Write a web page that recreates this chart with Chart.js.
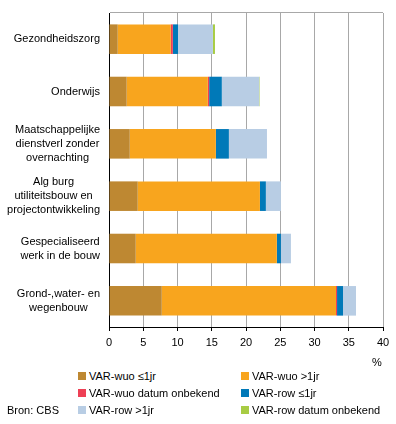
<!DOCTYPE html>
<html>
<head>
<meta charset="utf-8">
<script src="https://cdn.jsdelivr.net/npm/chart.js@4.4.1/dist/chart.umd.min.js"></script>
<style>
  html, body { margin: 0; padding: 0; background: #fff; }
  #wrap { position: relative; width: 396px; height: 424px; font-family: "Liberation Sans", Arial, sans-serif; font-size: 11px; color: #000; }
  #c { position: absolute; left: 0; top: 0; }
  .lg { position: absolute; white-space: nowrap; line-height: 14px; }
  .lg i { display: inline-block; width: 8px; height: 8px; margin-right: 3px; vertical-align: -0px; }
  .txt { position: absolute; white-space: nowrap; line-height: 14px; }
</style>
</head>
<body>
<div id="wrap">
  <canvas id="c" width="396" height="357"></canvas>
  <div id="legend"></div>
  <div class="txt" style="left:372px; top:355px;">%</div>
  <div class="txt" style="left:7px; top:403px;">Bron: CBS</div>
</div>
<script>
// Categories (top to bottom)
const categories = [
  ["Gezondheidszorg"],
  ["Onderwijs"],
  ["Maatschappelijke", "dienstverl zonder", "overnachting"],
  ["Alg burg", "utiliteitsbouw en", "projectontwikkeling"],
  ["Gespecialiseerd", "werk in de bouw"],
  ["Grond-,water- en", "wegenbouw"]
];

// Series values (%)
const wuoShort   = [1.27, 2.58, 3.03, 4.19, 3.90, 7.70];
const wuoLong    = [7.75, 11.85, 12.57, 17.84, 20.60, 25.44];
const wuoUnknown = [0.30, 0.19, 0.00, 0.00, 0.00, 0.15];
const rowShort   = [0.75, 1.85, 1.90, 0.87, 0.60, 0.87];
const rowLong    = [5.10, 5.46, 5.56, 2.20, 1.46, 1.90];
const rowUnknown = [0.30, 0.07, 0.00, 0.00, 0.00, 0.00];

const seriesNames = [
  "VAR-wuo \u22641jr", "VAR-wuo >1jr", "VAR-wuo datum onbekend",
  "VAR-row \u22641jr", "VAR-row >1jr", "VAR-row datum onbekend"
];
const seriesColors = ["#BE8832", "#F8A51E", "#EE4055", "#0079B8", "#B8CDE4", "#A8CC44"];
const seriesData = [wuoShort, wuoLong, wuoUnknown, rowShort, rowLong, rowUnknown];

const xTicks = [0, 5, 10, 15, 20, 25, 30, 35, 40];

const FONT = '"Liberation Sans", Arial, sans-serif';

// Draw multi-line category labels: block right-aligned, lines centered within block
const catLabelPlugin = {
  id: 'catLabels',
  afterDraw(chart) {
    const ys = chart.scales.y;
    const ctx = chart.ctx;
    ctx.save();
    ctx.font = '11px ' + FONT;
    ctx.fillStyle = '#000';
    ctx.textAlign = 'center';
    ctx.textBaseline = 'middle';
    const right = 100;
    const lh = 14;
    categories.forEach((lines, i) => {
      const y = ys.getPixelForTick(i);
      const w = Math.max(...lines.map(l => ctx.measureText(l).width));
      const cx = right - w / 2;
      lines.forEach((l, j) => {
        ctx.fillText(l, cx, y + (j - (lines.length - 1) / 2) * lh);
      });
    });
    ctx.restore();
  }
};

new Chart(document.getElementById('c'), {
  type: 'bar',
  data: {
    labels: categories.map(c => c.join(' ')),
    datasets: seriesNames.map((n, k) => ({
      label: n,
      data: seriesData[k],
      backgroundColor: seriesColors[k],
      borderWidth: 0,
      categoryPercentage: 1,
      barPercentage: 0.565
    }))
  },
  options: {
    indexAxis: 'y',
    responsive: false,
    animation: false,
    devicePixelRatio: 1,
    layout: { padding: { top: 13, right: 13, left: 0, bottom: 0 } },
    plugins: { legend: { display: false }, tooltip: { enabled: false } },
    scales: {
      x: {
        stacked: true,
        min: 0, max: 40,
        afterBuildTicks(s) { s.ticks = xTicks.map(v => ({ value: v })); },
        afterFit(s) { s.height = 30; },
        ticks: { color: '#000', font: { family: FONT, size: 11 }, padding: 5, maxRotation: 0 },
        grid: { color: '#a8a8a8', lineWidth: 1, tickColor: '#000', tickLength: 4 },
        border: { color: '#000', width: 1 }
      },
      y: {
        stacked: true,
        ticks: { display: false },
        afterFit(s) { s.width = 109; },
        grid: {
          offset: true,
          drawTicks: false,
          color: (c) => c.index === 0 ? '#a8a8a8' : 'rgba(0,0,0,0)'
        },
        border: { color: '#000', width: 1 }
      }
    }
  },
  plugins: [catLabelPlugin]
});

// HTML legend in two columns
const legend = document.getElementById('legend');
const colX = [78, 241];
const rowY = [369, 386, 403];
seriesNames.forEach((n, k) => {
  const d = document.createElement('div');
  d.className = 'lg';
  d.style.left = colX[k % 2] + 'px';
  d.style.top = rowY[Math.floor(k / 2)] + 'px';
  d.innerHTML = '<i style="background:' + seriesColors[k] + '"></i>' + n;
  legend.appendChild(d);
});
</script>
</body>
</html>
